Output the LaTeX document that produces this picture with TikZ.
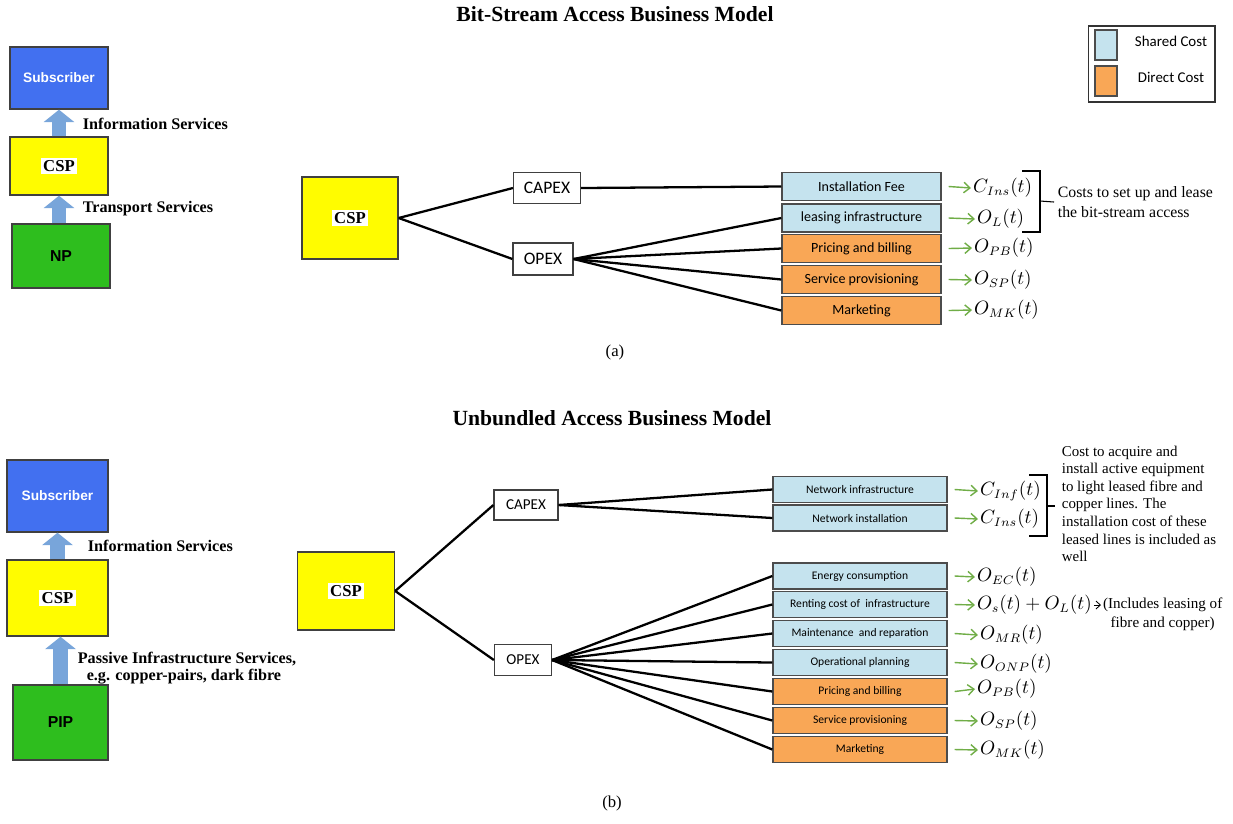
\documentclass[tikz,border=0pt]{standalone}
\usepackage{fontspec}
\setmainfont{Liberation Serif}
\setsansfont{Liberation Sans}
\newfontfamily\calibri{Carlito}
\usetikzlibrary{arrows.meta,positioning}

\definecolor{subblue}{RGB}{66,112,240}
\definecolor{cspyellow}{RGB}{255,252,0}
\definecolor{npgreen}{RGB}{46,190,30}
\definecolor{sharedblue}{RGB}{197,227,238}
\definecolor{directorange}{RGB}{249,167,86}
\definecolor{svcblue}{RGB}{120,165,218}
\definecolor{costgreen}{RGB}{112,173,71}

\newcommand{\whitetag}[1]{{\setlength{\fboxsep}{1.5pt}\colorbox{white}{#1}}}

\tikzset{
  actor/.style={draw=black!75,line width=0.8pt,font=\sffamily\bfseries\fontsize{7.8}{9}\selectfont},
  hub/.style={actor,fill=cspyellow,font=\rmfamily\bfseries\fontsize{9.5}{11}\selectfont},
  svcarrow/.style={line width=8pt,draw=svcblue,-{Triangle[width=17pt,length=7pt]}},
  svclabel/.style={anchor=west,font=\bfseries\fontsize{9.2}{9.5}\selectfont,align=left},
  title/.style={font=\bfseries\fontsize{12.3}{14}\selectfont},
  budget/.style={draw=black!75,fill=white,line width=0.7pt,font=\calibri\fontsize{10}{12}\selectfont},
  costbox/.style={draw=black!70,line width=0.8pt,font=\calibri\fontsize{8}{9}\selectfont,minimum width=3.18cm,minimum height=0.56cm,inner sep=1pt},
  shared/.style={costbox,fill=sharedblue},
  direct/.style={costbox,fill=directorange},
  wide/.style={minimum width=3.48cm,minimum height=0.52cm,font=\calibri\fontsize{6.6}{8}\selectfont},
  link/.style={line width=1.3pt,black},
  costarrow/.style={line width=0.8pt,costgreen,-{Straight Barb[length=3.5pt,width=6pt]}},
  costlabel/.style={anchor=west,inner sep=1pt,font=\fontsize{10.5}{12}\selectfont},
  note/.style={font=\fontsize{9}{11.3}\selectfont,align=left}
}

\begin{document}
\begin{tikzpicture}[x=0.02cm,y=-0.02cm,inner sep=2pt]
\useasboundingbox (0,0) rectangle (1233,823);

%%%%%%%% (a) bit-stream access
\node[title] (titleA) at (615,14) {Bit-Stream Access Business Model}; %title

%legend
\node[draw=black!80,line width=0.6pt,minimum width=2.54cm,minimum height=1.52cm] (legend) at (1151.5,64) {};
\node[draw=black!70,line width=0.8pt,fill=sharedblue,minimum width=0.44cm,minimum height=0.6cm] (keyS) at (1106,45) {};
\node[draw=black!70,line width=0.8pt,fill=directorange,minimum width=0.44cm,minimum height=0.6cm] (keyD) at (1106,81) {};
\node[font=\calibri\fontsize{8.5}{10}\selectfont] (keySt) at (1171,41) {Shared Cost};
\node[font=\calibri\fontsize{8.5}{10}\selectfont] (keyDt) at (1171,77) {Direct Cost};

%value chain
\node[actor,fill=subblue,text=white,minimum width=1.96cm,minimum height=1.24cm] (subA) at (59,78) {Subscriber};
\node[hub,minimum width=1.96cm,minimum height=1.16cm] (cspA) at (59,166) {\whitetag{CSP}};
\node[actor,fill=npgreen,font=\sffamily\bfseries\fontsize{9}{11}\selectfont,minimum width=1.96cm,minimum height=1.28cm] (npA) at (61,256) {NP};
\draw[svcarrow] (cspA.north) -- (subA.south); %info
\draw[svcarrow] (npA.north -| cspA.south) -- (cspA.south); %transport
\node[svclabel] at (79,124) {Information Services};
\node[svclabel] at (79,209) {Transport Services};

%cost tree
\node[hub,minimum width=1.92cm,minimum height=1.64cm] (hubA) at (350,218) {\whitetag{CSP}};
\node[budget,minimum width=1.34cm,minimum height=0.62cm] (capA) at (547,188) {CAPEX};
\node[budget,minimum width=1.2cm,minimum height=0.64cm] (opA) at (543,259) {OPEX};
\node[shared] (feeA) at (861.5,186.5) {Installation Fee};
\node[shared] (leaseA) at (861.5,218) {leasing infrastructure};
\node[direct] (priceA) at (861.5,248.5) {Pricing and billing};
\node[direct] (provA) at (861.5,279.5) {Service provisioning};
\node[direct] (mktA) at (861.5,310.5) {Marketing};

\draw[link] (hubA.east) -- (capA.west);
\draw[link] (hubA.east) -- (opA.west);
\draw[link] (capA.east) -- (feeA.west);
\foreach \b in {leaseA,priceA,provA,mktA}
  \draw[link] (opA.east) -- (\b.west);

%cost terms
\node[costlabel] (cFeeA) at (971,188) {$C_{Ins}(t)$};
\node[costlabel] (cLeaseA) at (975,219) {$O_{L}(t)$};
\node[costlabel] (cPriceA) at (972,248) {$O_{PB}(t)$};
\node[costlabel] (cProvA) at (972,280) {$O_{SP}(t)$};
\node[costlabel] (cMktA) at (972,310) {$O_{MK}(t)$};
\foreach \b/\m in {feeA/cFeeA,leaseA/cLeaseA,priceA/cPriceA,provA/cProvA,mktA/cMktA}
  \draw[costarrow] ([xshift=0.14cm]\b.east) -- (\m.west);

%bracket
\draw[line width=0.6pt] (1022,171) -- (1040,171) -- (1040,232) -- (1022,232);
\node[note,anchor=west] (noteA) at (1054,202) {Costs to set up and lease\\the bit-stream access};
\draw[line width=0.6pt] (1040,201) -- (noteA.west);

\node[font=\fontsize{9.5}{11}\selectfont] (capA2) at (615,352) {(a)};

%%%%%%%% (b) unbundled access
\node[title] (titleB) at (612,418) {Unbundled Access Business Model}; %title

%value chain
\node[actor,fill=subblue,text=white,minimum width=2.02cm,minimum height=1.44cm] (subB) at (57.5,496) {Subscriber};
\node[hub,minimum width=2.02cm,minimum height=1.52cm] (cspB) at (57.5,598) {\whitetag{CSP}};
\node[actor,fill=npgreen,font=\sffamily\bfseries\fontsize{9}{11}\selectfont,minimum width=1.9cm,minimum height=1.5cm] (pipB) at (60.5,722.5) {PIP};
\draw[svcarrow] (cspB.north) -- (subB.south); %info
\draw[svcarrow] (pipB.north) -- (pipB.north |- cspB.south); %passive
\node[svclabel] at (84,546) {Information Services};
\node[svclabel] at (74,668) {Passive Infrastructure Services,\\\hspace*{0.55em}e.g. copper-pairs, dark fibre};

%cost tree
\node[hub,minimum width=1.94cm,minimum height=1.56cm] (hubB) at (346,591) {\whitetag{CSP}};
\node[budget,font=\calibri\fontsize{8.6}{10}\selectfont,minimum width=1.28cm,minimum height=0.6cm] (capB) at (526,505) {CAPEX};
\node[budget,font=\calibri\fontsize{8.6}{10}\selectfont,minimum width=1.14cm,minimum height=0.62cm] (opB) at (523,660) {OPEX};
\node[shared,wide] (infB) at (860,489.5) {Network infrastructure};
\node[shared,wide] (insB) at (860,518) {Network installation};
\node[shared,wide] (engB) at (860,576) {Energy consumption};
\node[shared,wide] (rentB) at (860,604.5) {Renting cost of\ \ infrastructure};
\node[shared,wide] (mainB) at (860,633.5) {Maintenance\ \ and reparation};
\node[shared,wide] (planB) at (860,662.5) {Operational planning};
\node[direct,wide] (priceB) at (860,691.5) {Pricing and billing};
\node[direct,wide] (provB) at (860,720.5) {Service provisioning};
\node[direct,wide] (mktB) at (860,749.5) {Marketing};

\draw[link] (hubB.east) -- (capB.west);
\draw[link] (hubB.east) -- (opB.west);
\foreach \b in {infB,insB}
  \draw[link] (capB.east) -- (\b.west);
\foreach \b in {engB,rentB,mainB,planB,priceB,provB,mktB}
  \draw[link] (opB.east) -- (\b.west);

%cost terms
\begin{scope}[every node/.append style={font=\fontsize{9.6}{12}\selectfont}]
\node[costlabel] (cInfB) at (978,491) {$C_{Inf}(t)$};
\node[costlabel] (cInsB) at (978,519) {$C_{Ins}(t)$};
\node[costlabel] (cEngB) at (975,577) {$O_{EC}(t)$};
\node[costlabel] (cRentB) at (975,605) {$O_{s}(t)+O_{L}(t)$};
\node[costlabel] (cMainB) at (978,635) {$O_{MR}(t)$};
\node[costlabel] (cPlanB) at (978,664) {$O_{ONP}(t)$};
\node[costlabel] (cPriceB) at (975,689) {$O_{PB}(t)$};
\node[costlabel] (cProvB) at (978,721) {$O_{SP}(t)$};
\node[costlabel] (cMktB) at (978,750) {$O_{MK}(t)$};
\end{scope}
\foreach \b/\m in {infB/cInfB,insB/cInsB,engB/cEngB,rentB/cRentB,mainB/cMainB,planB/cPlanB,priceB/cPriceB,provB/cProvB,mktB/cMktB}
  \draw[costarrow] ([xshift=0.14cm]\b.east) -- (\m.west);

\node[note,anchor=west,align=center,font=\fontsize{8.6}{10.8}\selectfont,inner sep=1pt] (rentNote) at (1101,614) {(Includes leasing of\\fibre and copper)};
\draw[line width=0.5pt,-{Straight Barb[length=2.5pt,width=4.5pt]}] (cRentB.east) -- (cRentB.east -| rentNote.west);

%bracket
\draw[line width=0.6pt] (1029,475) -- (1047,475) -- (1047,536) -- (1029,536);
\node[note,anchor=north west,font=\fontsize{8.5}{10}\selectfont] (noteB) at (1058,442) {Cost to acquire and\\install active equipment\\to light leased fibre and\\copper lines. The\\installation cost of these\\leased lines is included as\\well};
\draw[line width=0.6pt] (1047,506) -- (1055,506);

\node[font=\fontsize{9.5}{11}\selectfont] (capB2) at (612,803) {(b)};
\end{tikzpicture}
\end{document}
